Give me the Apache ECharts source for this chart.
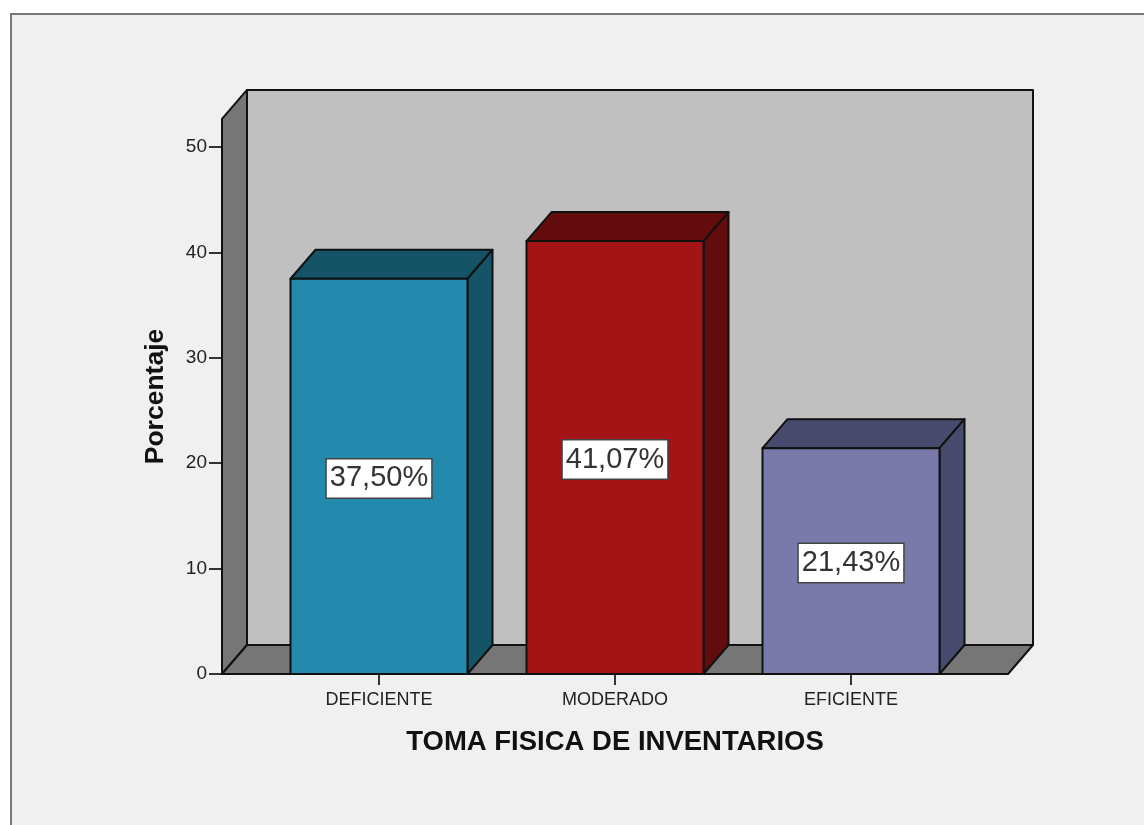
<!DOCTYPE html>
<html>
<head>
<meta charset="utf-8">
<style>html,body{margin:0;padding:0;background:#fff}#c{width:1144px;height:825px}</style>
<script src="https://cdn.jsdelivr.net/npm/echarts@6/dist/echarts.min.js"></script>
</head>
<body>
<div id="c"></div>
<script>
const categories = ['DEFICIENTE', 'MODERADO', 'EFICIENTE'];
const percentages = [37.5, 41.07, 21.43];
const valueLabels = ['37,50%', '41,07%', '21,43%'];
const yTicks = { min: 0, max: 50, interval: 10 };
const xTitle = 'TOMA FISICA DE INVENTARIOS';
const yTitle = 'Porcentaje';

const frontColors = ['#2389ad', '#a31417', '#7a7aaa'];
const shadeColors = ['#155467', '#620c0e', '#484a6e'];
const DX = 25, DY = -29;
const LINE = '#111';
const WALL_TOP = 52.66, WALL_PAD = 157;

const poly = (pts, fill) => ({
  type: 'polygon',
  shape: { points: pts },
  style: { fill, stroke: LINE, lineWidth: 2, lineJoin: 'round' }
});

function renderWalls(params, api) {
  const l = api.coord([0, 0])[0] - WALL_PAD;
  const r = api.coord([categories.length - 1, 0])[0] + WALL_PAD;
  const b = api.coord([0, 0])[1];
  const t = api.coord([0, WALL_TOP])[1];
  return {
    type: 'group',
    children: [
      poly([[l + DX, t + DY], [r + DX, t + DY], [r + DX, b + DY], [l + DX, b + DY]], '#c0c0c0'),
      poly([[l, t], [l + DX, t + DY], [l + DX, b + DY], [l, b]], '#767676'),
      poly([[l, b], [l + DX, b + DY], [r + DX, b + DY], [r, b]], '#767676')
    ]
  };
}

function renderBar(params, api) {
  const i = params.dataIndex;
  const c = api.value(0), v = api.value(1);
  const top = api.coord([c, v]);
  const base = api.coord([c, 0]);
  const w = api.size([1, 0])[0] * 0.75;
  const l = top[0] - w / 2, r = top[0] + w / 2;
  const midY = api.coord([c, v / 2])[1];
  return {
    type: 'group',
    children: [
      poly([[l, top[1]], [l + DX, top[1] + DY], [r + DX, top[1] + DY], [r, top[1]]], shadeColors[i]),
      poly([[r, top[1]], [r + DX, top[1] + DY], [r + DX, base[1] + DY], [r, base[1]]], shadeColors[i]),
      poly([[l, top[1]], [r, top[1]], [r, base[1]], [l, base[1]]], frontColors[i]),
      {
        type: 'text',
        x: top[0],
        y: midY + 2,
        style: {
          text: valueLabels[i],
          font: '29px "Liberation Sans", Arial, sans-serif',
          fill: '#333',
          align: 'center',
          verticalAlign: 'middle',
          backgroundColor: '#fff',
          borderColor: '#444',
          borderWidth: 1.5,
          padding: [5, 3, 4, 3]
        }
      }
    ]
  };
}

const chart = echarts.init(document.getElementById('c'), null, { renderer: 'canvas' });
chart.setOption({
  animation: false,
  backgroundColor: '#fff',
  graphic: [{
    type: 'rect',
    z: -10,
    silent: true,
    shape: { x: 11, y: 14, width: 1200, height: 900 },
    style: { fill: '#f0f0f0', stroke: '#777', lineWidth: 2 }
  }],
  grid: { left: 261, right: 175, top: 147, bottom: 151 },
  xAxis: {
    type: 'category',
    data: categories,
    name: xTitle,
    nameLocation: 'middle',
    nameGap: 54,
    nameTextStyle: { fontFamily: 'Liberation Sans', fontWeight: 'bold', fontSize: 27.5, color: '#111' },
    axisLine: { show: false },
    axisTick: { show: true, alignWithLabel: true, length: 11, lineStyle: { color: '#333', width: 2 } },
    axisLabel: { fontFamily: 'Liberation Sans', fontSize: 18, color: '#222', margin: 17 }
  },
  yAxis: {
    type: 'value',
    min: yTicks.min,
    max: yTicks.max,
    interval: yTicks.interval,
    offset: 39,
    name: yTitle,
    nameLocation: 'middle',
    nameGap: 66,
    nameRotate: 90,
    nameTextStyle: { fontFamily: 'Liberation Sans', fontWeight: 'bold', fontSize: 26.5, color: '#111', verticalAlign: 'middle', padding: [0, 0, 0, 28] },
    splitLine: { show: false },
    axisLine: { show: false },
    axisTick: { show: true, length: 13, lineStyle: { color: '#333', width: 2 } },
    axisLabel: { fontFamily: 'Liberation Sans', fontSize: 19, color: '#222', margin: 15, padding: [8, 0, 0, 0] }
  },
  series: [
    { type: 'custom', silent: true, z: 1, renderItem: renderWalls, data: [[0, 0]], encode: { x: 0, y: 1 }, clip: false },
    { type: 'custom', silent: true, z: 2, renderItem: renderBar, data: percentages.map((v, i) => [i, v]), encode: { x: 0, y: 1 }, clip: false }
  ]
});
</script>
</body>
</html>
